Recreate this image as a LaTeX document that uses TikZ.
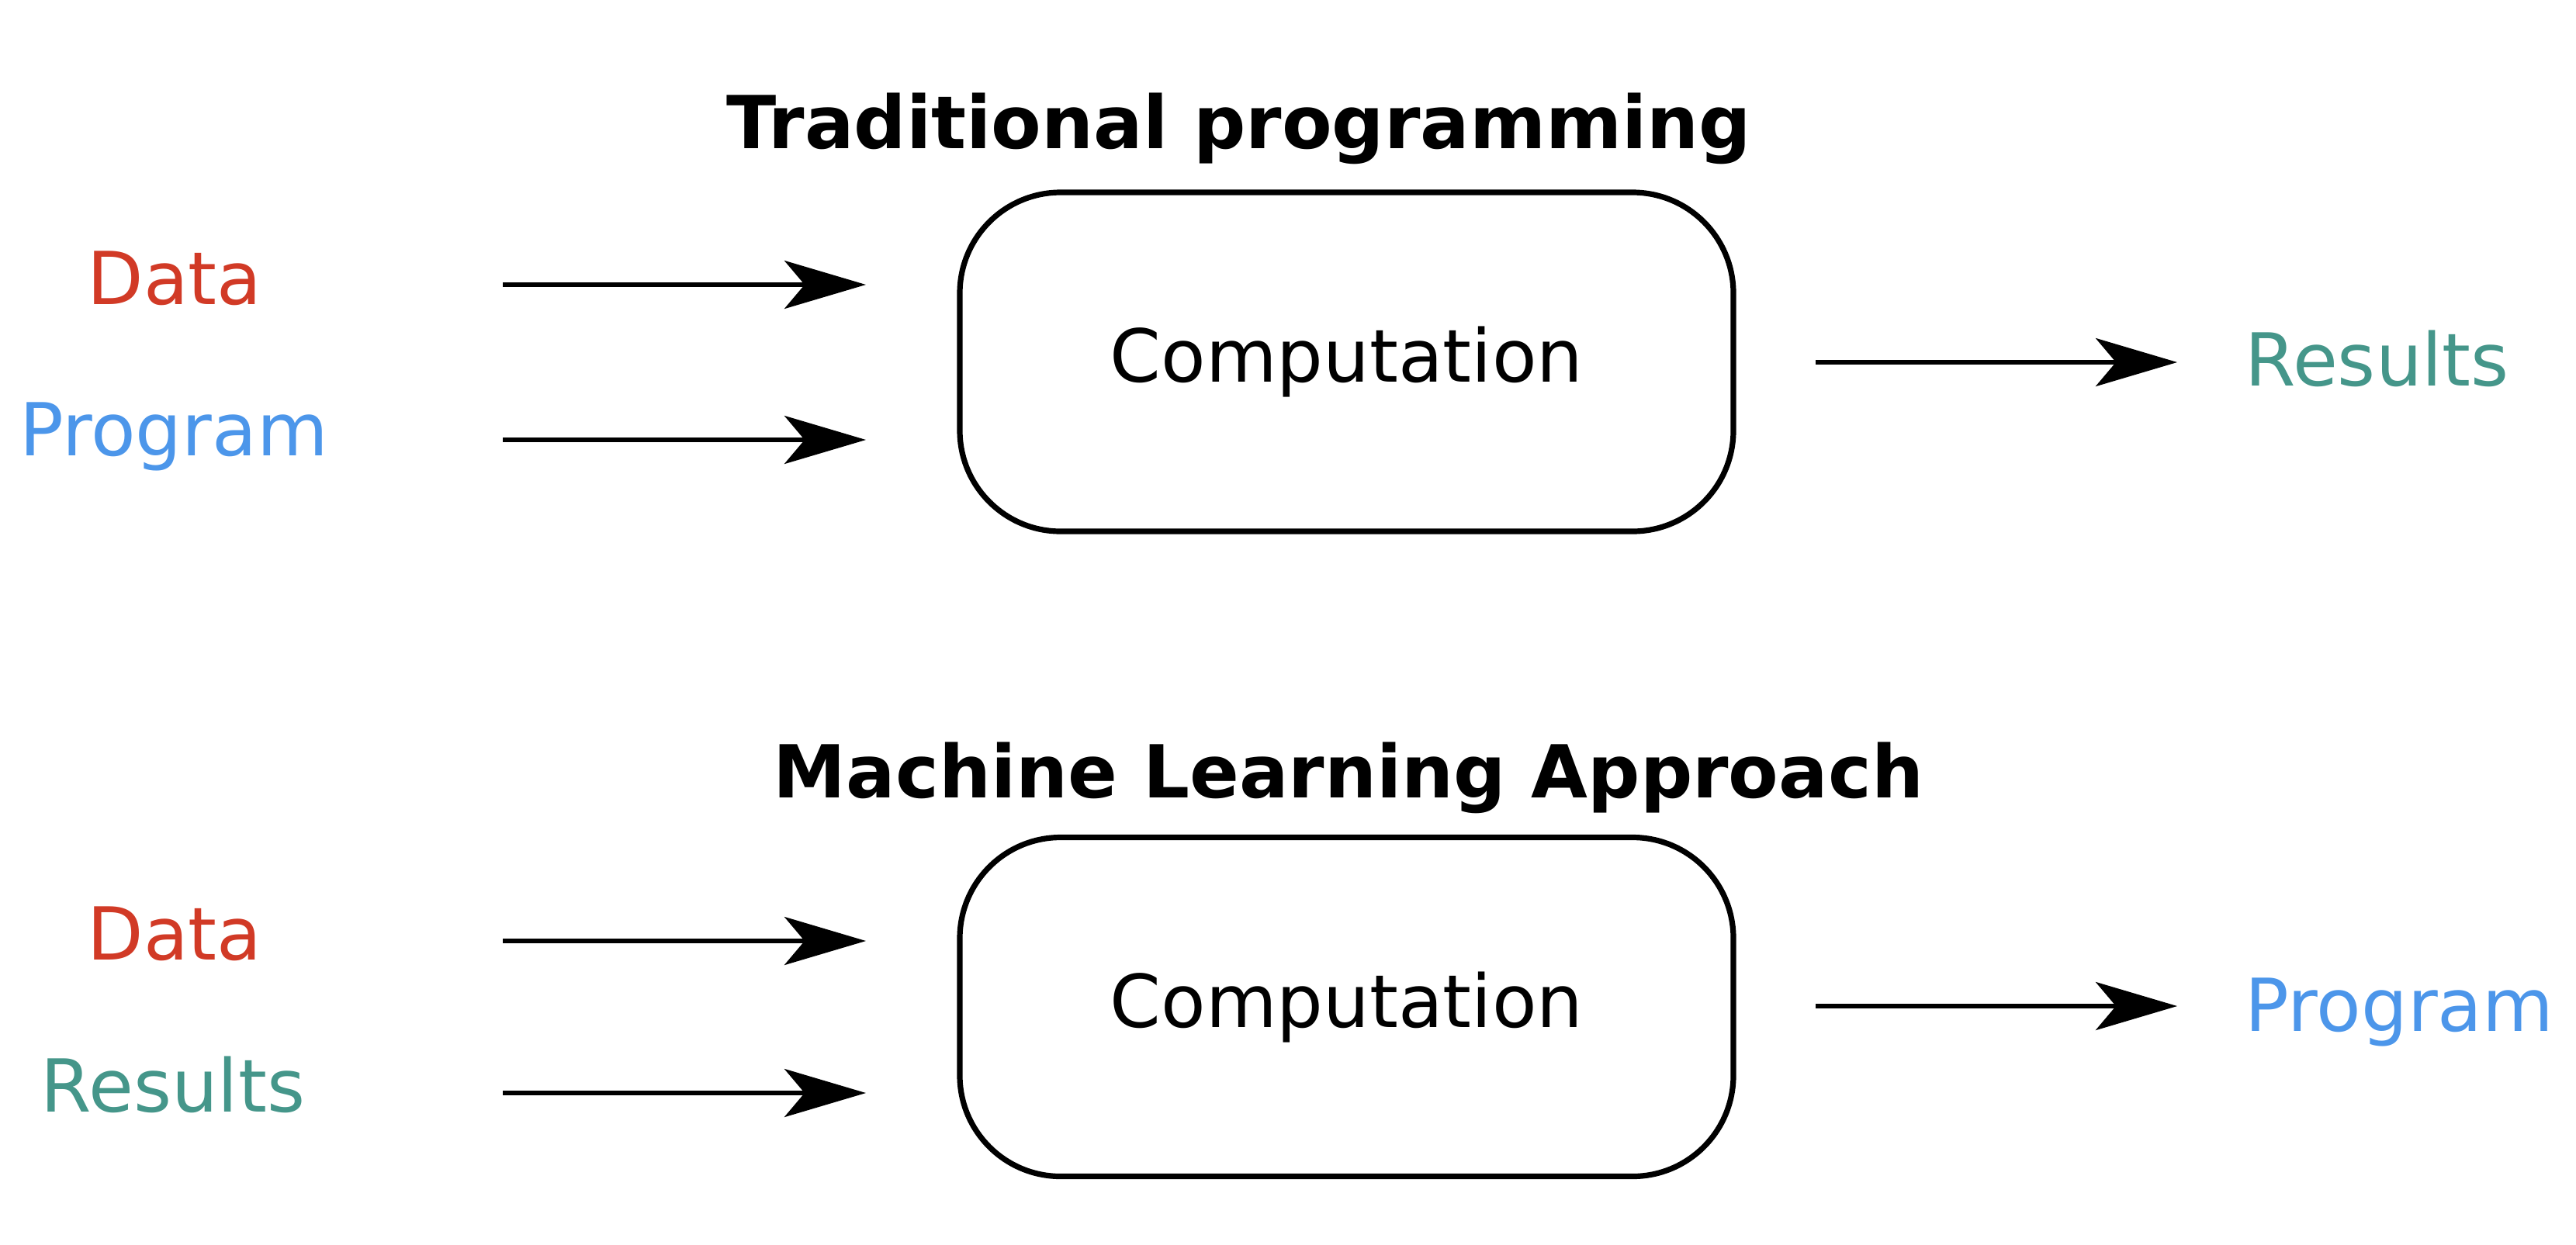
\documentclass[tikz,border=0pt]{standalone}
\usepackage{fontspec}
\setmainfont{DejaVu Sans}
\usetikzlibrary{arrows.meta}
\definecolor{datared}{HTML}{D13A26}
\definecolor{progblue}{HTML}{4C96EA}
\definecolor{resteal}{HTML}{45968A}
\begin{document}
\begin{tikzpicture}[
  txt/.style={inner sep=0pt, font=\fontsize{26.8pt}{32pt}\selectfont},
  ttl/.style={txt, anchor=base, font=\fontsize{26.8pt}{32pt}\selectfont\bfseries},
  lbl/.style={txt, anchor=base},
  rlbl/.style={txt, anchor=base west},
  compbox/.style={draw, line width=0.072cm, rounded corners=1.3cm, minimum width=9.97cm, minimum height=4.37cm, inner sep=0pt, font=\fontsize{26.8pt}{32pt}\selectfont},
  arr/.style={line width=0.055cm, -{Stealth[length=1.05cm, width=0.62cm, inset=0.26cm]}}
]
\useasboundingbox (0,0) rectangle (33.2,-16.04);
% top section
\node[ttl] (t1) at (15.97,-1.91) {Traditional programming};
\node[compbox] (box1) at (17.355,-4.665) {Computation};
\node[lbl, text=datared] (d1) at (2.25,-3.92) {Data};
\node[lbl, text=progblue] (p1) at (2.24,-5.87) {Program};
\node[rlbl, text=resteal] (r1) at (28.93,-4.97) {Results};
\coordinate (a1s) at (6.48,-3.67);
\coordinate (a1e) at (11.16,-3.67);
\coordinate (a2s) at (6.48,-5.67);
\coordinate (a2e) at (11.16,-5.67);
\coordinate (a3s) at (23.40,-4.67);
\coordinate (a3e) at (28.06,-4.67);
\draw[arr] (a1s) -- (a1e);
\draw[arr] (a2s) -- (a2e);
\draw[arr] (a3s) -- (a3e);
% bottom section
\node[ttl] (t2) at (17.38,-10.28) {Machine Learning Approach};
\node[compbox] (box2) at (17.355,-12.98) {Computation};
\node[lbl, text=datared] (d2) at (2.25,-12.37) {Data};
\node[lbl, text=resteal] (r2) at (2.23,-14.33) {Results};
\node[rlbl, text=progblue] (p2) at (28.93,-13.29) {Program};
\coordinate (b1s) at (6.48,-12.13);
\coordinate (b1e) at (11.16,-12.13);
\coordinate (b2s) at (6.48,-14.09);
\coordinate (b2e) at (11.16,-14.09);
\coordinate (b3s) at (23.40,-12.97);
\coordinate (b3e) at (28.06,-12.97);
\draw[arr] (b1s) -- (b1e);
\draw[arr] (b2s) -- (b2e);
\draw[arr] (b3s) -- (b3e);
\end{tikzpicture}
\end{document}
